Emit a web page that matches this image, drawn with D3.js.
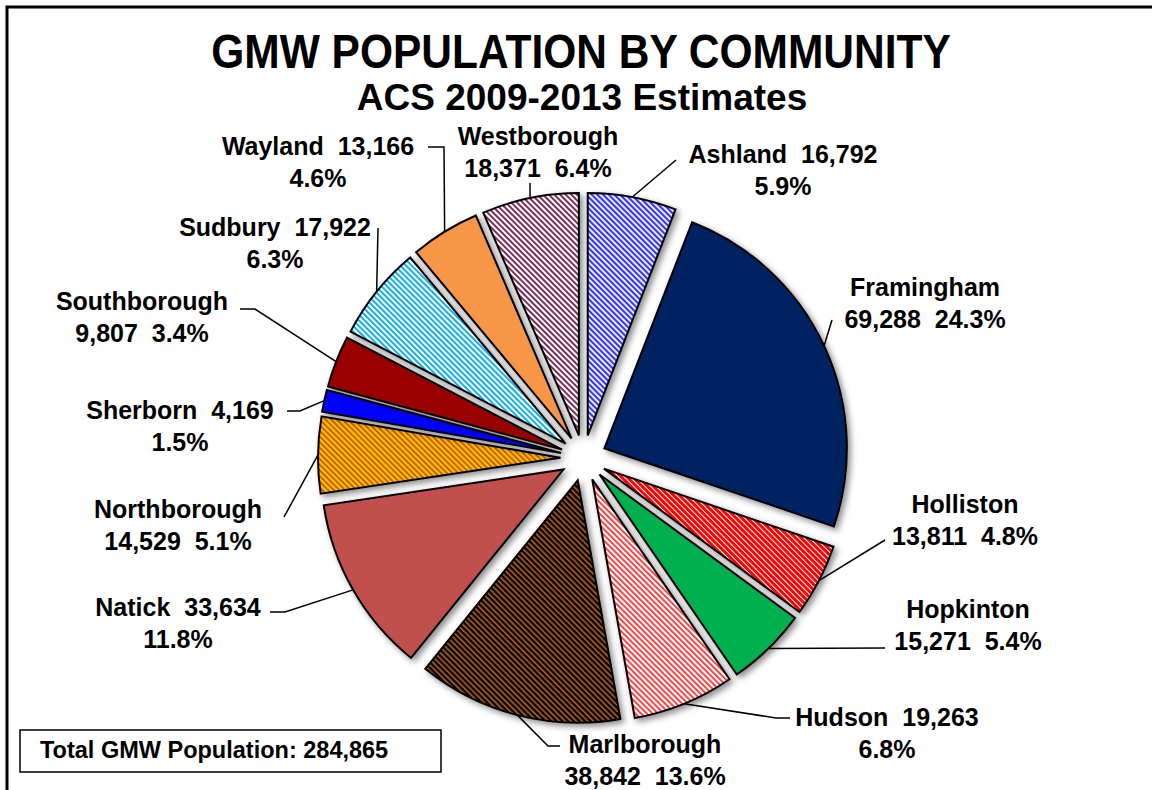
<!DOCTYPE html>
<html>
<head>
<meta charset="utf-8">
<script src="https://cdn.jsdelivr.net/npm/d3@7"></script>
<style>
  body { margin: 0; background: #fff; }
  text { font-family: "Liberation Sans", Arial, sans-serif; font-weight: bold; fill: #000; white-space: pre; }
</style>
</head>
<body>
<div id="chart"></div>
<script>
const communities = ["Ashland", "Framingham", "Holliston", "Hopkinton", "Hudson", "Marlborough",
  "Natick", "Northborough", "Sherborn", "Southborough", "Sudbury", "Wayland", "Westborough"];
const population = [16792, 69288, 13811, 15271, 19263, 38842, 33634, 14529, 4169, 9807, 17922, 13166, 18371];
const total = 284865;

const width = 1152, height = 790;
const cx = 583.5, cy = 458, radius = 242.5, explode = 23;

// fill style per slice: solid colour or stripes (bg, stripe, stripe width)
const fills = [
  {bg: "#fff", fg: "#3434ff", w: 2.2},
  {solid: "#002060"},
  {bg: "#ff0000", fg: "#fff", w: 1.0},
  {solid: "#00b050"},
  {bg: "#fff", fg: "#ff3030", w: 1.8},
  {bg: "#000", fg: "#c8681e", w: 1.5},
  {solid: "#c0504d"},
  {bg: "#ffc000", fg: "#b84600", w: 1.5},
  {solid: "#0000ff"},
  {solid: "#990000"},
  {bg: "#fff", fg: "#10b0f0", w: 2.0},
  {solid: "#f79646"},
  {bg: "#fff", fg: "#7d2f58", w: 2.0}
];

// label layout: centre x, first baseline, style a = "name value / pct", b = "name / value pct"
const labels = [
  {x: 783, y: 163, t: "a", lead: [[676, 160]]},
  {x: 925, y: 296, t: "b", lead: [[832, 320]]},
  {x: 965, y: 513, t: "b", lead: [[885, 540]]},
  {x: 968, y: 618, t: "b", lead: [[885, 648]]},
  {x: 887, y: 726, t: "a", lead: [[790, 718], [776, 718]]},
  {x: 645, y: 753, t: "b", lead: [[560, 746], [548, 746]]},
  {x: 178, y: 616, t: "a", lead: [[270, 612], [285, 612]]},
  {x: 178, y: 518, t: "b", lead: [[284, 517]]},
  {x: 180, y: 419, t: "a", lead: [[287, 411], [300, 411]]},
  {x: 142, y: 310, t: "b", lead: [[240, 309], [255, 309]]},
  {x: 275, y: 236, t: "a", lead: [[378, 228]]},
  {x: 318, y: 155, t: "a", lead: [[428, 147], [444, 147]]},
  {x: 538, y: 145, t: "b", lead: [[530, 183]]}
];

const svg = d3.select("#chart").append("svg")
    .attr("width", width)
    .attr("height", height);

const defs = svg.append("defs");

const shadow = defs.append("filter").attr("id", "shadow")
    .attr("x", "-20%").attr("y", "-20%").attr("width", "140%").attr("height", "140%");
shadow.append("feDropShadow")
    .attr("dx", 3).attr("dy", 3).attr("stdDeviation", 3)
    .attr("flood-color", "#000").attr("flood-opacity", 0.45);

fills.forEach(function(f, i) {
    if (f.solid) return;
    const p = defs.append("pattern")
        .attr("id", "pat" + i)
        .attr("patternUnits", "userSpaceOnUse")
        .attr("width", 4).attr("height", 4)
        .attr("patternTransform", "rotate(-45)");
    p.append("rect").attr("width", 4).attr("height", 4).attr("fill", f.bg);
    p.append("rect").attr("width", f.w).attr("height", 4).attr("fill", f.fg);
});

// outer frame
svg.append("rect")
    .attr("x", 7).attr("y", 7)
    .attr("width", width + 20).attr("height", height + 20)
    .attr("fill", "none").attr("stroke", "#000").attr("stroke-width", 3);

svg.append("text")
    .attr("transform", "translate(581,68) scale(1,1.13)")
    .attr("text-anchor", "middle")
    .style("font-size", "42.5px")
    .text("GMW POPULATION BY COMMUNITY");

svg.append("text")
    .attr("x", 582).attr("y", 110)
    .attr("text-anchor", "middle")
    .style("font-size", "37px")
    .text("ACS 2009-2013 Estimates");

const pie = d3.pie().sort(null).value(d => d)(population);
const arc = d3.arc().innerRadius(0).outerRadius(radius);

function offset(d, r) {
    const a = (d.startAngle + d.endAngle) / 2;
    return [Math.sin(a) * r, -Math.cos(a) * r];
}

const g = svg.append("g").attr("transform", `translate(${cx},${cy})`);

g.selectAll("path.slice")
    .data(pie)
    .enter().append("path")
    .attr("class", "slice")
    .attr("d", arc)
    .attr("transform", function(d) {
        const o = offset(d, explode);
        return `translate(${o[0]},${o[1]})`;
    })
    .attr("fill", (d, i) => fills[i].solid ? fills[i].solid : `url(#pat${i})`)
    .attr("stroke", "#000")
    .attr("stroke-width", 2)
    .attr("filter", "url(#shadow)");

const fmt = d3.format(",");
const pct = d3.format(".1%");

// leader lines
pie.forEach(function(d, i) {
    const o = offset(d, radius + explode);
    const pts = labels[i].lead.concat([[cx + o[0], cy + o[1]]]);
    svg.append("path")
        .attr("d", d3.line()(pts))
        .attr("fill", "none")
        .attr("stroke", "#000")
        .attr("stroke-width", 1.5);
});

// labels
pie.forEach(function(d, i) {
    const L = labels[i];
    const name = communities[i], val = fmt(population[i]), p = pct(population[i] / total);
    const lines = L.t == "a" ? [name + "\u00a0\u00a0" + val, p] : [name, val + "\u00a0\u00a0" + p];
    const t = svg.append("text")
        .attr("text-anchor", "middle")
        .style("font-size", "25px");
    lines.forEach(function(s, k) {
        t.append("tspan").attr("x", L.x).attr("y", L.y + k * 32).text(s);
    });
});

// total box
svg.append("rect")
    .attr("x", 20).attr("y", 730)
    .attr("width", 421).attr("height", 42)
    .attr("fill", "#fff").attr("stroke", "#000").attr("stroke-width", 1.5);

svg.append("text")
    .attr("x", 40).attr("y", 758)
    .style("font-size", "23.5px")
    .text("Total GMW Population: " + fmt(total));
</script>
</body>
</html>
